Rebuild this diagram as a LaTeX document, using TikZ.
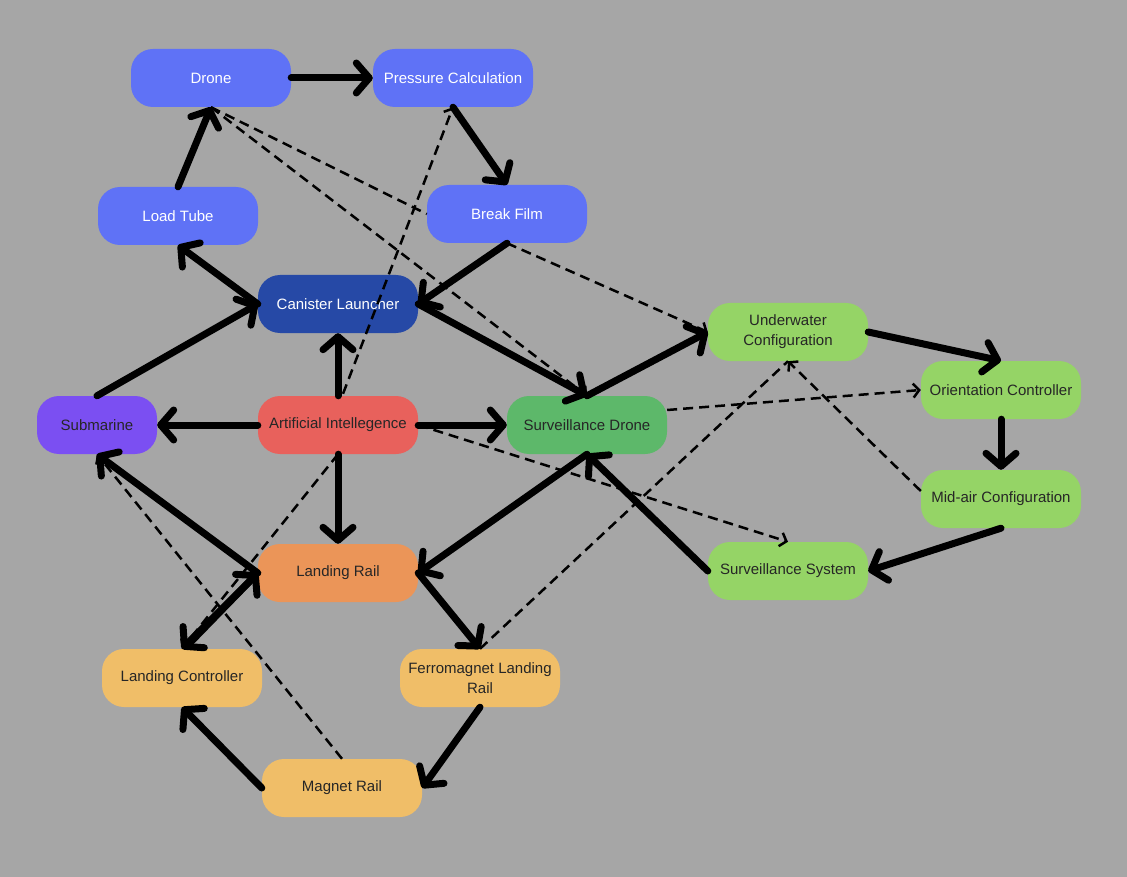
\documentclass[tikz,border=0pt]{standalone}
\usepackage{fontspec}
\setmainfont{Liberation Sans}
\usetikzlibrary{arrows.meta}
\definecolor{bg}{HTML}{A6A6A6}
\definecolor{cblue}{HTML}{5F72F6}
\definecolor{cdark}{HTML}{2649A6}
\definecolor{cpurp}{HTML}{7B4FF2}
\definecolor{cred}{HTML}{E8615C}
\definecolor{cgreen}{HTML}{5DB86A}
\definecolor{clgreen}{HTML}{95D466}
\definecolor{corange}{HTML}{EB9558}
\definecolor{cyellow}{HTML}{F0BE68}
\tikzset{
 box/.style={rounded corners=22pt,minimum width=160pt,minimum height=58pt,inner sep=2pt,
   font=\fontsize{15}{18}\selectfont,align=center},
 wbox/.style={box,text=white},
 kbox/.style={box,text=black!85},
 thick arr/.style={line width=7pt,line cap=round,-{Straight Barb[length=13pt,width=30pt,line width=7pt,round]}},
 dash arr/.style={line width=2.5pt,dash pattern=on 10pt off 6pt,-{Straight Barb[length=6pt,width=14pt,line width=2.5pt]}},
 dash line/.style={line width=2.5pt,dash pattern=on 10pt off 6pt},
}
\begin{document}
\begin{tikzpicture}[x=1pt,y=-1pt]
\fill[bg] (0,0) rectangle (1127,877);
\useasboundingbox (0,0) rectangle (1127,877);
\node[wbox,fill=cblue] (drone) at (211,78) {Drone};
\node[wbox,fill=cblue] (pc) at (453,78) {Pressure Calculation};
\node[wbox,fill=cblue] (lt) at (178,216) {Load Tube};
\node[wbox,fill=cblue] (bf) at (507,214) {Break Film};
\node[wbox,fill=cdark] (cl) at (338,304) {Canister Launcher};
\node[box,fill=cpurp,minimum width=120pt,text=black!85] (sub) at (97,425) {Submarine};
\node[kbox,fill=cred] (ai) at (338,425) {Artificial Intellegence};
\node[kbox,fill=cgreen] (sd) at (587,425) {Surveillance Drone};
\node[kbox,fill=clgreen] (uc) at (788,332) {Underwater\\[2pt]Configuration};
\node[kbox,fill=clgreen] (oc) at (1001,390) {Orientation Controller};
\node[kbox,fill=clgreen] (mc) at (1001,499) {Mid-air Configuration};
\node[kbox,fill=clgreen] (ss) at (788,571) {Surveillance System};
\node[kbox,fill=corange] (lr) at (338,573) {Landing Rail};
\node[kbox,fill=cyellow] (lc) at (182,678) {Landing Controller};
\node[kbox,fill=cyellow] (fr) at (480,678) {Ferromagnet Landing\\[2pt]Rail};
\node[kbox,fill=cyellow] (mr) at (342,788) {Magnet Rail};
% dashed
\draw[dash line] (drone.south) -- (bf.west);
\draw[dash arr] (drone.south) -- (sd.north);
\draw[dash arr] (ai.north) ++(5,-2) coordinate (ain) -- (pc.south);
\draw[dash arr] (bf.south) -- (uc.west);
\draw[dash arr] (sd.east) ++(0,-15) coordinate (sde) -- (oc.west);
\draw[dash arr] (ai.east) -- (ss.north);
\draw[dash arr] (mc.west) ++(0,-8) coordinate (mcw) -- (uc.south);
\draw[dash line] (fr.north) -- (uc.south);
\draw[dash arr] (ai.south) -- (lc.north);
\draw[dash arr] (mr.north) -- (sub.south);
% thick
\draw[thick arr] (drone.east) -- (pc.west);
\draw[thick arr] (pc.south) -- (bf.north);
\draw[thick arr] (lt.north) -- (drone.south);
\draw[thick arr] (bf.south) -- (cl.east);
\draw[thick arr] (cl.west) -- (lt.south);
\draw[thick arr] (sub.north) -- (cl.west);
\draw[thick arr] (ai.north) -- (cl.south);
\draw[thick arr] (ai.west) -- (sub.east);
\draw[thick arr] (ai.east) -- (sd.west);
\draw[thick arr] (ai.south) -- (lr.north);
\draw[thick arr] (cl.east) -- (sd.north);
\draw[thick arr] (sd.north) -- (uc.west);
\draw[thick arr] (uc.east) -- (oc.north);
\draw[thick arr] (oc.south) -- (mc.north);
\draw[thick arr] (mc.south) -- (ss.east);
\draw[thick arr] (ss.west) -- (sd.south);
\draw[thick arr] (sd.south) -- (lr.east);
\draw[thick arr] (lr.west) -- (sub.south);
\draw[thick arr] (lr.east) -- (fr.north);
\draw[thick arr] (fr.south) -- (mr.east);
\draw[thick arr] (mr.west) -- (lc.south);
\draw[thick arr] (lr.west) ++(-4,4) coordinate (lrw) -- (lc.north);
\draw[thick arr] (lc.north) ++(6,-4) coordinate (lcn) -- (lr.west);
\end{tikzpicture}
\end{document}
